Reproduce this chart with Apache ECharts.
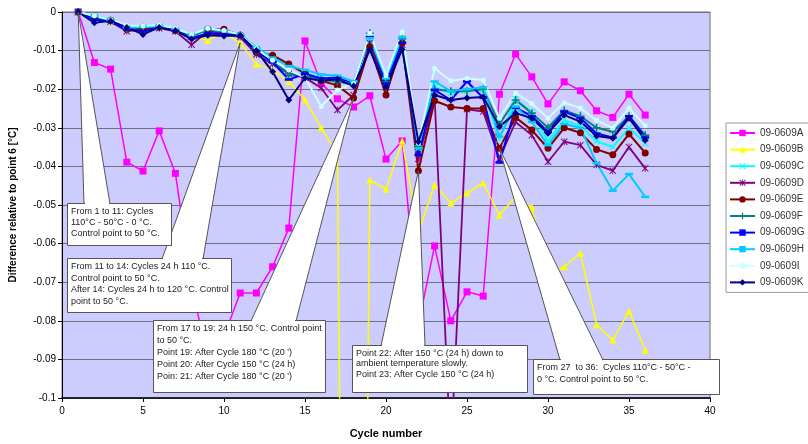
<!DOCTYPE html>
<html><head><meta charset="utf-8">
<script src="https://cdn.jsdelivr.net/npm/echarts/dist/echarts.min.js"></script>
<style>html,body{margin:0;padding:0;background:#fff}#c{width:808px;height:444px}</style>
</head><body><div id="c"></div>
<script>
const cycles = [1,2,3,4,5,6,7,8,9,10,11,12,13,14,15,16,17,18,19,20,21,22,23,24,25,26,27,28,29,30,31,32,33,34,35,36];
const seriesNames = ['09-0609A','09-0609B','09-0609C','09-0609D','09-0609E','09-0609F','09-0609G','09-0609H','09-0609I','09-0609K'];
const valsA = [0,-0.0131,-0.0148,-0.0389,-0.0412,-0.0308,-0.0418,-0.0705,-0.0905,-0.0840,-0.0728,-0.0728,-0.0660,-0.0560,-0.0075,-0.0185,-0.0225,-0.0246,-0.0217,-0.0381,-0.0334,-0.0810,-0.0606,-0.0800,-0.0725,-0.0736,-0.0213,-0.0109,-0.0168,-0.0238,-0.0181,-0.0204,-0.0256,-0.0273,-0.0213,-0.0267];
const valsB = [0,-0.0015,-0.0025,-0.0045,-0.0042,-0.0040,-0.0048,-0.0065,-0.0073,-0.0055,-0.0080,-0.0135,-0.0150,-0.0180,-0.0228,-0.0300,-0.0368,-0.5,-0.0435,-0.0459,-0.0334,-0.0570,-0.0448,-0.0495,-0.0469,-0.0443,-0.0526,-0.0479,-0.0505,-0.0680,-0.0660,-0.0625,-0.0810,-0.0850,-0.0775,-0.0876];
const valsC = [0,-0.0012,-0.0022,-0.0042,-0.0040,-0.0038,-0.0046,-0.0062,-0.0046,-0.0050,-0.0060,-0.0095,-0.0125,-0.0165,-0.0160,-0.0172,-0.0180,-0.0185,-0.0070,-0.0178,-0.0068,-0.0353,-0.0195,-0.0210,-0.0205,-0.0200,-0.0330,-0.0226,-0.0259,-0.0335,-0.0280,-0.0295,-0.0335,-0.0350,-0.0300,-0.0340];
const valsD = [0,-0.0015,-0.0025,-0.0050,-0.0045,-0.0042,-0.0050,-0.0085,-0.0050,-0.0055,-0.0065,-0.0110,-0.0135,-0.0160,-0.0170,-0.0197,-0.0254,-0.0215,-0.0080,-0.0195,-0.0085,-0.0380,-0.0220,-0.1150,-0.0252,-0.0258,-0.0380,-0.0285,-0.0319,-0.0388,-0.0336,-0.0345,-0.0396,-0.0411,-0.0350,-0.0405];
const valsE = [0,-0.0015,-0.0022,-0.0045,-0.0042,-0.0038,-0.0048,-0.0062,-0.0045,-0.0045,-0.0060,-0.0105,-0.0112,-0.0135,-0.0160,-0.0178,-0.0190,-0.0223,-0.0090,-0.0215,-0.0080,-0.0411,-0.0230,-0.0246,-0.0250,-0.0250,-0.0353,-0.0273,-0.0306,-0.0353,-0.0300,-0.0313,-0.0356,-0.0370,-0.0316,-0.0365];
const valsF = [0,-0.0013,-0.0022,-0.0043,-0.0040,-0.0038,-0.0046,-0.0062,-0.0046,-0.0050,-0.0060,-0.0100,-0.0128,-0.0160,-0.0165,-0.0175,-0.0180,-0.0188,-0.0055,-0.0180,-0.0070,-0.0350,-0.0200,-0.0205,-0.0205,-0.0200,-0.0290,-0.0228,-0.0262,-0.0300,-0.0255,-0.0270,-0.0300,-0.0310,-0.0270,-0.0319];
const valsG = [0,-0.0020,-0.0025,-0.0045,-0.0050,-0.0040,-0.0048,-0.0068,-0.0055,-0.0058,-0.0062,-0.0102,-0.0130,-0.0175,-0.0160,-0.0172,-0.0170,-0.0185,-0.0065,-0.0185,-0.0080,-0.0370,-0.0202,-0.0228,-0.0180,-0.0222,-0.0390,-0.0248,-0.0270,-0.0310,-0.0258,-0.0275,-0.0315,-0.0325,-0.0270,-0.0325];
const valsH = [0,-0.0010,-0.0020,-0.0040,-0.0038,-0.0036,-0.0044,-0.0058,-0.0044,-0.0048,-0.0058,-0.0092,-0.0118,-0.0140,-0.0150,-0.0162,-0.0165,-0.0180,-0.0068,-0.0172,-0.0065,-0.0353,-0.0180,-0.0205,-0.0200,-0.0195,-0.0323,-0.0245,-0.0285,-0.0345,-0.0290,-0.0300,-0.0392,-0.0463,-0.0420,-0.0479];
const valsI = [0,-0.0010,-0.0020,-0.0035,-0.0036,-0.0034,-0.0042,-0.0058,-0.0042,-0.0048,-0.0058,-0.0095,-0.0125,-0.0150,-0.0170,-0.0245,-0.0202,-0.0185,-0.0055,-0.0165,-0.0051,-0.0340,-0.0146,-0.0178,-0.0172,-0.0176,-0.0275,-0.0210,-0.0237,-0.0275,-0.0235,-0.0249,-0.0281,-0.0301,-0.0249,-0.0295];
const valsK = [0,-0.0028,-0.0023,-0.0040,-0.0058,-0.0040,-0.0048,-0.0070,-0.0060,-0.0062,-0.0060,-0.0100,-0.0155,-0.0228,-0.0171,-0.0178,-0.0174,-0.0192,-0.0098,-0.0195,-0.0097,-0.0336,-0.0215,-0.0228,-0.0223,-0.0220,-0.0297,-0.0262,-0.0275,-0.0314,-0.0267,-0.0284,-0.0321,-0.0327,-0.0275,-0.0332];
const xTickLabels = ['0','5','10','15','20','25','30','35','40'];
const yTickLabels = ['0','-0.01','-0.02','-0.03','-0.04','-0.05','-0.06','-0.07','-0.08','-0.09','-0.1'];
const calloutTexts = [
  'From 1 to 11: Cycles\n110°C - 50°C - 0 °C.\nControl point to 50 °C.',
  'From 11 to 14: Cycles 24 h 110 °C.\nControl point to 50 °C.\nAfter 14: Cycles 24 h to 120 °C. Control\npoint to 50 °C.',
  'From 17 to 19: 24 h 150 °C. Control point\nto 50 °C.\nPoint 19: After Cycle 180 °C (20 \')\nPoint 20: After Cycle 150 °C (24 h)\nPoin: 21: After Cycle 180 °C (20 \')',
  'Point 22: After 150 °C (24 h) down to\nambient temperature slowly.\nPoint 23: After Cycle 150 °C (24 h)',
  'From 27  to 36:  Cycles 110°C - 50°C -\n0 °C. Control point to 50 °C.'
];
const calloutCycles = [1, 11, 18, 22, 27];
const calloutValues = [0, -0.008, -0.0223, -0.0411, -0.0353];

const allVals = [valsA,valsB,valsC,valsD,valsE,valsF,valsG,valsH,valsI,valsK];
const colors = ['#FF00FF','#FFFF00','#00FFFF','#800080','#800000','#008080','#0000FF','#00CCFF','#CCFFFF','#000080'];
const X_PATH = 'path://M1,0L5,4L9,0L10,1L6,5L10,9L9,10L5,6L1,10L0,9L4,5L0,1Z';
const STAR_PATH = 'path://M1,0L5,4L9,0L10,1L6,5L10,9L9,10L5,6L1,10L0,9L4,5L0,1Z M4.4,0H5.6V10H4.4Z';
const PLUS_PATH = 'path://M4,0H6V4H10V6H6V10H4V6H0V4H4Z';
const symbols = ['rect','triangle',X_PATH,STAR_PATH,'circle',PLUS_PATH,'rect','rect','circle','diamond'];
const symSizes = [7,7,7,7,7,8,[8,2.5],[8,2.5],5,7];
const widths = [1.5,1.5,2,1.8,2,2,2,2,2,2];

const FONT = 'Liberation Sans, Arial, sans-serif';
const chart = echarts.init(document.getElementById('c'), null, {renderer:'canvas'});
const option = {
  animation: false,
  backgroundColor: '#ffffff',
  grid: {left:62, right:98, top:12, bottom:46, show:true, backgroundColor:'#CCCCFF', borderColor:'#707070', borderWidth:1, containLabel:false, outerBoundsMode:'none'},
  legend: {
    orient:'vertical', left:726, top:123, itemWidth:25, itemHeight:8, itemGap:4.6,
    padding:[4,4,4,3], backgroundColor:'#fff', borderColor:'#999', borderWidth:1, borderRadius:0,
    textStyle:{fontSize:10, color:'#333', fontFamily:FONT, lineHeight:12},
    data: seriesNames
  },
  xAxis: {
    type:'value', min:0, max:40, interval:5,
    name:'Cycle number', nameLocation:'middle', nameGap:30,
    nameTextStyle:{fontSize:11, fontWeight:'bold', color:'#000', fontFamily:FONT},
    axisLine:{show:true, onZero:false, lineStyle:{color:'#000', width:1.5}},
    axisTick:{show:true, inside:false, length:4, lineStyle:{color:'#000'}},
    axisLabel:{fontSize:10, color:'#000', fontFamily:FONT, margin:8, formatter:(v)=>xTickLabels[Math.round(v/5)]},
    splitLine:{show:false}
  },
  yAxis: {
    type:'value', min:-0.1, max:0, interval:0.01,
    name:'Difference relative to point 6 [°C]', nameLocation:'middle', nameGap:44, nameRotate:90,
    nameTextStyle:{fontSize:10, fontWeight:'bold', color:'#000', fontFamily:FONT},
    axisLine:{show:true, onZero:false, lineStyle:{color:'#000', width:1}},
    axisTick:{show:true, inside:false, length:4, lineStyle:{color:'#000'}},
    axisLabel:{fontSize:10, color:'#000', fontFamily:FONT, margin:6, formatter:(v)=>yTickLabels[Math.round(-v/0.01)]},
    splitLine:{show:true, lineStyle:{color:'#6f6f80', width:1}}
  },
  series: seriesNames.map((nm, k) => ({
    name: nm, type:'line', clip:true,
    data: cycles.map((c,i)=>[c, allVals[k][i]]),
    symbol: symbols[k], symbolSize: symSizes[k], showSymbol:true,
    lineStyle:{color:colors[k], width:widths[k]},
    itemStyle:{color:colors[k], borderColor:colors[k], borderWidth:0},
    emphasis:{disabled:true}
  }))
};
chart.setOption(option);

// callout boxes (layout in pixels), tips anchored to data through the axes
const boxes = [
  {x:67, y:203, w:104, h:42, lh:11, base:[84,110]},
  {x:67, y:258, w:164, h:54, lh:11.5, base:[162,203]},
  {x:153, y:320, w:172, h:72, lh:12, base:[251,296]},
  {x:352, y:345, w:175, h:47, lh:10.5, base:[381,425]},
  {x:533, y:359, w:186, h:35, lh:12, base:[560,603]}
];
const g = [];
boxes.forEach((b, i) => {
  const tip = chart.convertToPixel({xAxisIndex:0, yAxisIndex:0}, [calloutCycles[i], calloutValues[i]]);
  g.push({type:'polygon', z:100, shape:{points:[tip,[b.base[0], b.y+1],[b.base[1], b.y+1]]}, style:{fill:'#fff', stroke:'#555', lineWidth:1}});
});
boxes.forEach((b, i) => {
  g.push({type:'rect', z:101, shape:{x:b.x+0.5, y:b.y+0.5, width:b.w, height:b.h}, style:{fill:'#fff', stroke:'#555', lineWidth:1}});
  g.push({type:'line', z:102, shape:{x1:b.base[0]+1, y1:b.y+0.5, x2:b.base[1]-1, y2:b.y+0.5}, style:{stroke:'#fff', lineWidth:1.5}});
  g.push({type:'text', z:103, x:b.x+4, y:b.y+3, style:{text:calloutTexts[i], fontSize:9, fontFamily:FONT, fill:'#222', lineHeight:b.lh, verticalAlign:'top', align:'left'}});
});
chart.setOption({graphic: g});
</script>
</body></html>
